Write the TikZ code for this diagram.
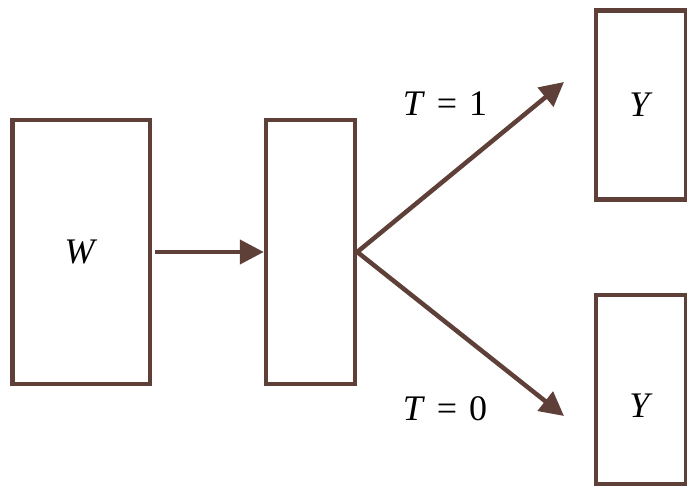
\documentclass[tikz,border=0pt]{standalone}
\usepackage{fontspec}
\setmainfont{Liberation Serif}
\usetikzlibrary{arrows.meta,positioning}
\definecolor{brn}{RGB}{94,64,56}

\begin{document}
\begin{tikzpicture}[x=1pt, y=-1pt, font=\fontsize{36}{42}\selectfont,
  blk/.style={draw=brn, line width=4.5pt, inner sep=0pt},
  arr/.style={draw=brn, line width=4.5pt, -{Triangle[length=24pt, width=24pt]}}]
\useasboundingbox (0,0) rectangle (687,486);
\node[blk, minimum width=137.5pt, minimum height=264pt] (w) at (81,252) {\textit{W}};
\node[blk, minimum width=89pt, minimum height=264pt] (mid) at (310.5,252) {};
\node[blk, minimum width=90pt, minimum height=189pt] (ytop) at (641,105) {\textit{Y}};
\node[blk, minimum width=90pt, minimum height=189pt,
  label={[yshift=-16pt]center:\textit{Y}}] (ybot) at (641,389.5) {};
\coordinate (tip1) at (564,82);
\coordinate (tip0) at (564,416);
\draw[arr, shorten <=3pt] (w) -- (mid);
\draw[arr] (mid.east) -- (tip1);
\draw[arr] (mid.east) -- (tip0);
\node (t1) at (445,104) {\textit{T}\hspace{12pt}=\hspace{12pt}1};
\node (t0) at (445,409) {\textit{T}\hspace{12pt}=\hspace{12pt}0};
\end{tikzpicture}
\end{document}
